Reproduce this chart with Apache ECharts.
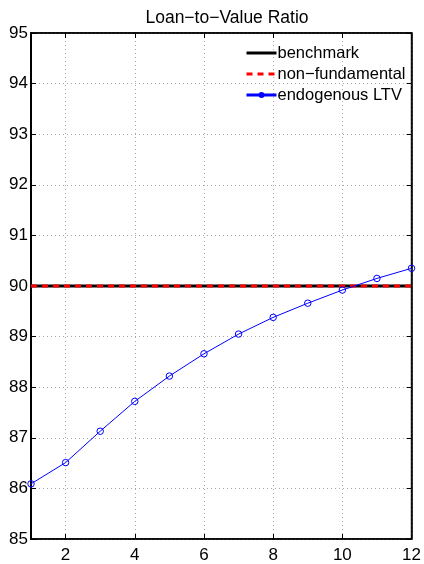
<!DOCTYPE html>
<html>
<head>
<meta charset="utf-8">
<script src="https://cdn.jsdelivr.net/npm/echarts@6/dist/echarts.min.js"></script>
<style>
html,body{margin:0;padding:0;background:#fff;}
#chart{width:424px;height:564px;}
</style>
</head>
<body>
<div id="chart"></div>
<script>
const title = 'Loan\u2212to\u2212Value Ratio';
const periods = ['1','2','3','4','5','6','7','8','9','10','11','12'];
const benchmark = [90,90,90,90,90,90,90,90,90,90,90,90];
const nonFundamental = [90,90,90,90,90,90,90,90,90,90,90,90];
const endogenousLTV = [86.09,86.51,87.13,87.72,88.22,88.66,89.05,89.38,89.66,89.92,90.15,90.35];
const seriesNames = ['benchmark','non\u2212fundamental','endogenous LTV'];
const yMin = 85, yMax = 95, yStep = 1;

const font = 'Liberation Sans, Arial, Helvetica, sans-serif';
const evenOnly = (i, v) => (Number(v) % 2 === 0);
const chart = echarts.init(document.getElementById('chart'), null, {renderer:'canvas'});
chart.setOption({
  animation:false,
  backgroundColor:'#fff',
  textStyle:{fontFamily:font},
  title:{text:title, left:222, textAlign:'center', top:4, textStyle:{fontSize:17.5, fontWeight:'normal', color:'#000', fontFamily:font}},
  grid:{left:31, right:11, top:33, bottom:23, show:true, borderColor:'#000', borderWidth:1.5, backgroundColor:'#fff'},
  legend:{
    orient:'vertical', left:240, top:38, itemGap:1, itemWidth:30, itemHeight:5,
    textStyle:{fontSize:16.5, lineHeight:20, color:'#000', fontFamily:font, padding:[0,0,0,-4]},
    data:[
      {name:seriesNames[0], itemStyle:{opacity:0}, lineStyle:{width:3, color:'#000'}},
      {name:seriesNames[1], itemStyle:{opacity:0}, lineStyle:{width:3, color:'#ff0000', type:[6,5]}},
      {name:seriesNames[2], itemStyle:{color:'#0000ff', borderColor:'#0000ff'}, lineStyle:{width:3, color:'#0000ff'}}
    ]
  },
  xAxis:[{
    type:'category', data:periods, boundaryGap:false,
    axisLine:{show:true, lineStyle:{color:'#000', width:1.5}},
    axisTick:{show:true, inside:true, length:5, interval:evenOnly, lineStyle:{color:'#000'}},
    axisLabel:{interval:evenOnly, fontSize:17, color:'#000', margin:8, fontFamily:font},
    splitLine:{show:true, interval:evenOnly, lineStyle:{color:'#aaa', type:[1,3], width:1}}
  },{
    type:'category', data:periods, boundaryGap:false, position:'top',
    axisLine:{show:true, lineStyle:{color:'#000', width:1.5}},
    axisTick:{show:true, inside:true, length:5, interval:evenOnly, lineStyle:{color:'#000'}},
    axisLabel:{show:false}, splitLine:{show:false}
  }],
  yAxis:[{
    type:'value', min:yMin, max:yMax, interval:yStep,
    axisLine:{show:true, lineStyle:{color:'#000', width:2}},
    axisTick:{show:true, inside:true, length:5, lineStyle:{color:'#000'}},
    axisLabel:{fontSize:17, color:'#000', margin:3, fontFamily:font},
    splitLine:{show:true, lineStyle:{color:'#aaa', type:[1,3], width:1}}
  },{
    type:'value', min:yMin, max:yMax, interval:yStep, position:'right',
    axisLine:{show:true, lineStyle:{color:'#000', width:1.5}},
    axisTick:{show:true, inside:true, length:5, lineStyle:{color:'#000'}},
    axisLabel:{show:false}, splitLine:{show:false}
  }],
  series:[
    {name:seriesNames[0], type:'line', data:benchmark, showSymbol:false, symbol:'none',
     lineStyle:{color:'#000', width:3}, itemStyle:{color:'#000'}, z:2},
    {name:seriesNames[1], type:'line', data:nonFundamental, showSymbol:false, symbol:'none',
     lineStyle:{color:'#ff0000', width:3, type:[6,5]}, itemStyle:{color:'#ff0000'}, z:3},
    {name:seriesNames[2], type:'line', data:endogenousLTV, symbol:'circle', symbolSize:6.5, showSymbol:true,
     lineStyle:{color:'#0000ff', width:1}, itemStyle:{color:'rgba(0,0,0,0)', borderColor:'#0000ff', borderWidth:1},
     z:4}
  ]
});
</script>
</body>
</html>
